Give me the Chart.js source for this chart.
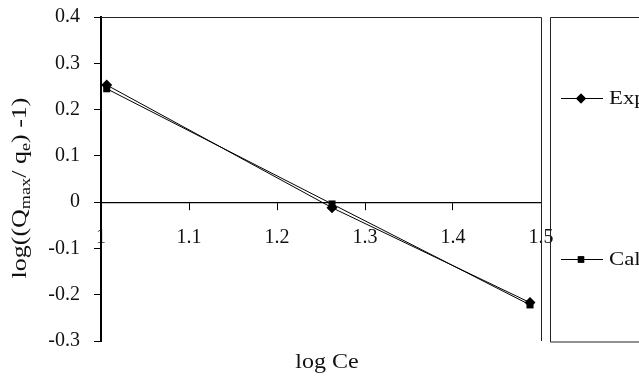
<!DOCTYPE html>
<html><head><meta charset="utf-8">
<script src="https://cdn.jsdelivr.net/npm/chart.js@4/dist/chart.umd.min.js"></script>
<style>html,body{margin:0;padding:0;background:#fff}#wrap{width:639px;height:376px}</style>
</head><body><div id="wrap"><canvas id="c" width="639" height="376"></canvas></div>
<script>
const logCe = [1.0065, 1.2625, 1.4875];
const expValues = [0.253, -0.012, -0.217];
const calValues = [0.245, -0.004, -0.222];
const seriesLabels = ['Experimental', 'Calculated'];
const xTicks = [1, 1.1, 1.2, 1.3, 1.4, 1.5];
const yTicks = [-0.3, -0.2, -0.1, 0, 0.1, 0.2, 0.3, 0.4];

const FONT = '"Liberation Serif", "DejaVu Serif", serif';

function stretchText(ctx, text, x, y, sx) {
  ctx.save(); ctx.translate(x, y); ctx.scale(sx, 1); ctx.fillText(text, 0, 0); ctx.restore();
}

const decorPlugin = {
  id: 'decor',
  afterDraw(chart) {
    const ctx = chart.ctx, a = chart.chartArea;
    ctx.save();
    ctx.strokeStyle = '#222'; ctx.lineWidth = 1;
    ctx.beginPath();
    ctx.moveTo(a.left, a.top + 0.5); ctx.lineTo(a.right + 0.5, a.top + 0.5);
    ctx.lineTo(a.right + 0.5, a.bottom); ctx.stroke();
    // legend box
    const lx = 550.5, ly = a.top + 0.5, lb = a.bottom + 1;
    ctx.beginPath(); ctx.rect(lx, ly, 200, lb - ly); ctx.stroke();
    const items = [{y: 98, style: 'rectRot'}, {y: 259, style: 'rect'}];
    chart.data.datasets.forEach((ds, i) => {
      const it = items[i];
      ctx.strokeStyle = '#000'; ctx.lineWidth = 1.2;
      ctx.beginPath(); ctx.moveTo(561, it.y + 0.5); ctx.lineTo(603, it.y + 0.5); ctx.stroke();
      ctx.fillStyle = '#000';
      Chart.helpers.drawPoint(ctx, {pointStyle: it.style, radius: it.style === 'rect' ? 4.5 : 5, borderWidth: 0}, 581, it.y + 0.5);
      ctx.fill();
      ctx.font = '19px ' + FONT; ctx.textBaseline = 'middle'; ctx.textAlign = 'left';
      ctx.fillStyle = '#111';
      stretchText(ctx, ds.label, 609, it.y + 1, 1.2);
    });
    // x axis title
    ctx.font = '20px ' + FONT; ctx.textAlign = 'center'; ctx.textBaseline = 'middle';
    ctx.fillStyle = '#111';
    stretchText(ctx, 'log Ce', 327, 363, 1.2);
    // y axis title with subscripts
    ctx.translate(19, 188); ctx.rotate(-Math.PI / 2);
    const sx = 1.3;
    ctx.scale(sx, 1);
    const parts = [['log((Q', 20, 0], ['max', 14, 4], ['/ q', 20, 0], ['e', 14, 4], [') -1)', 20, 0]];
    let total = 0;
    parts.forEach(p => { ctx.font = p[1] + 'px ' + FONT; total += ctx.measureText(p[0]).width; });
    let x = -total / 2;
    ctx.textAlign = 'left'; ctx.textBaseline = 'alphabetic';
    parts.forEach(p => {
      ctx.font = p[1] + 'px ' + FONT;
      ctx.fillText(p[0], x, 7 + p[2]);
      x += ctx.measureText(p[0]).width;
    });
    ctx.restore();
  }
};

new Chart(document.getElementById('c'), {
  type: 'scatter',
  data: {
    datasets: [
      {label: seriesLabels[0], data: logCe.map((x, i) => ({x, y: expValues[i]})), showLine: true,
       borderColor: '#000', borderWidth: 1, backgroundColor: '#000', pointStyle: 'rectRot', pointRadius: 5.5, pointBorderWidth: 0},
      {label: seriesLabels[1], data: logCe.map((x, i) => ({x, y: calValues[i]})), showLine: true,
       borderColor: '#000', borderWidth: 1, backgroundColor: '#000', pointStyle: 'rect', pointRadius: 5, pointBorderWidth: 0}
    ]
  },
  options: {
    responsive: false, animation: false,
    layout: {padding: {left: 0, right: 98, top: 17, bottom: 35}},
    plugins: {legend: {display: false}, tooltip: {enabled: false}},
    scales: {
      x: {
        type: 'linear', position: {y: 0}, min: 1, max: 1.5,
        afterBuildTicks: s => { s.ticks = xTicks.map(v => ({value: v})); },
        afterFit: s => { s.paddingLeft = 0; s.paddingRight = 0; },
        ticks: {font: {family: FONT, size: 20}, color: '#111', padding: 17, maxRotation: 0,
                callback: v => String(+v.toFixed(1))},
        grid: {drawOnChartArea: false, drawTicks: true, tickLength: 7, color: '#000', tickColor: '#000'},
        border: {display: true, color: '#000', width: 1.2}
      },
      y: {
        type: 'linear', min: -0.3, max: 0.4,
        afterBuildTicks: s => { s.ticks = yTicks.map(v => ({value: v})); },
        afterFit: s => { s.width = 101; s.paddingTop = 0; s.paddingBottom = 0; },
        ticks: {font: {family: FONT, size: 20}, color: '#111', padding: 14,
                callback: v => String(+v.toFixed(1))},
        grid: {drawOnChartArea: false, drawTicks: true, tickLength: 7, color: '#000', tickColor: '#000'},
        border: {display: true, color: '#000', width: 2}
      }
    }
  },
  plugins: [decorPlugin]
});
</script></body></html>
